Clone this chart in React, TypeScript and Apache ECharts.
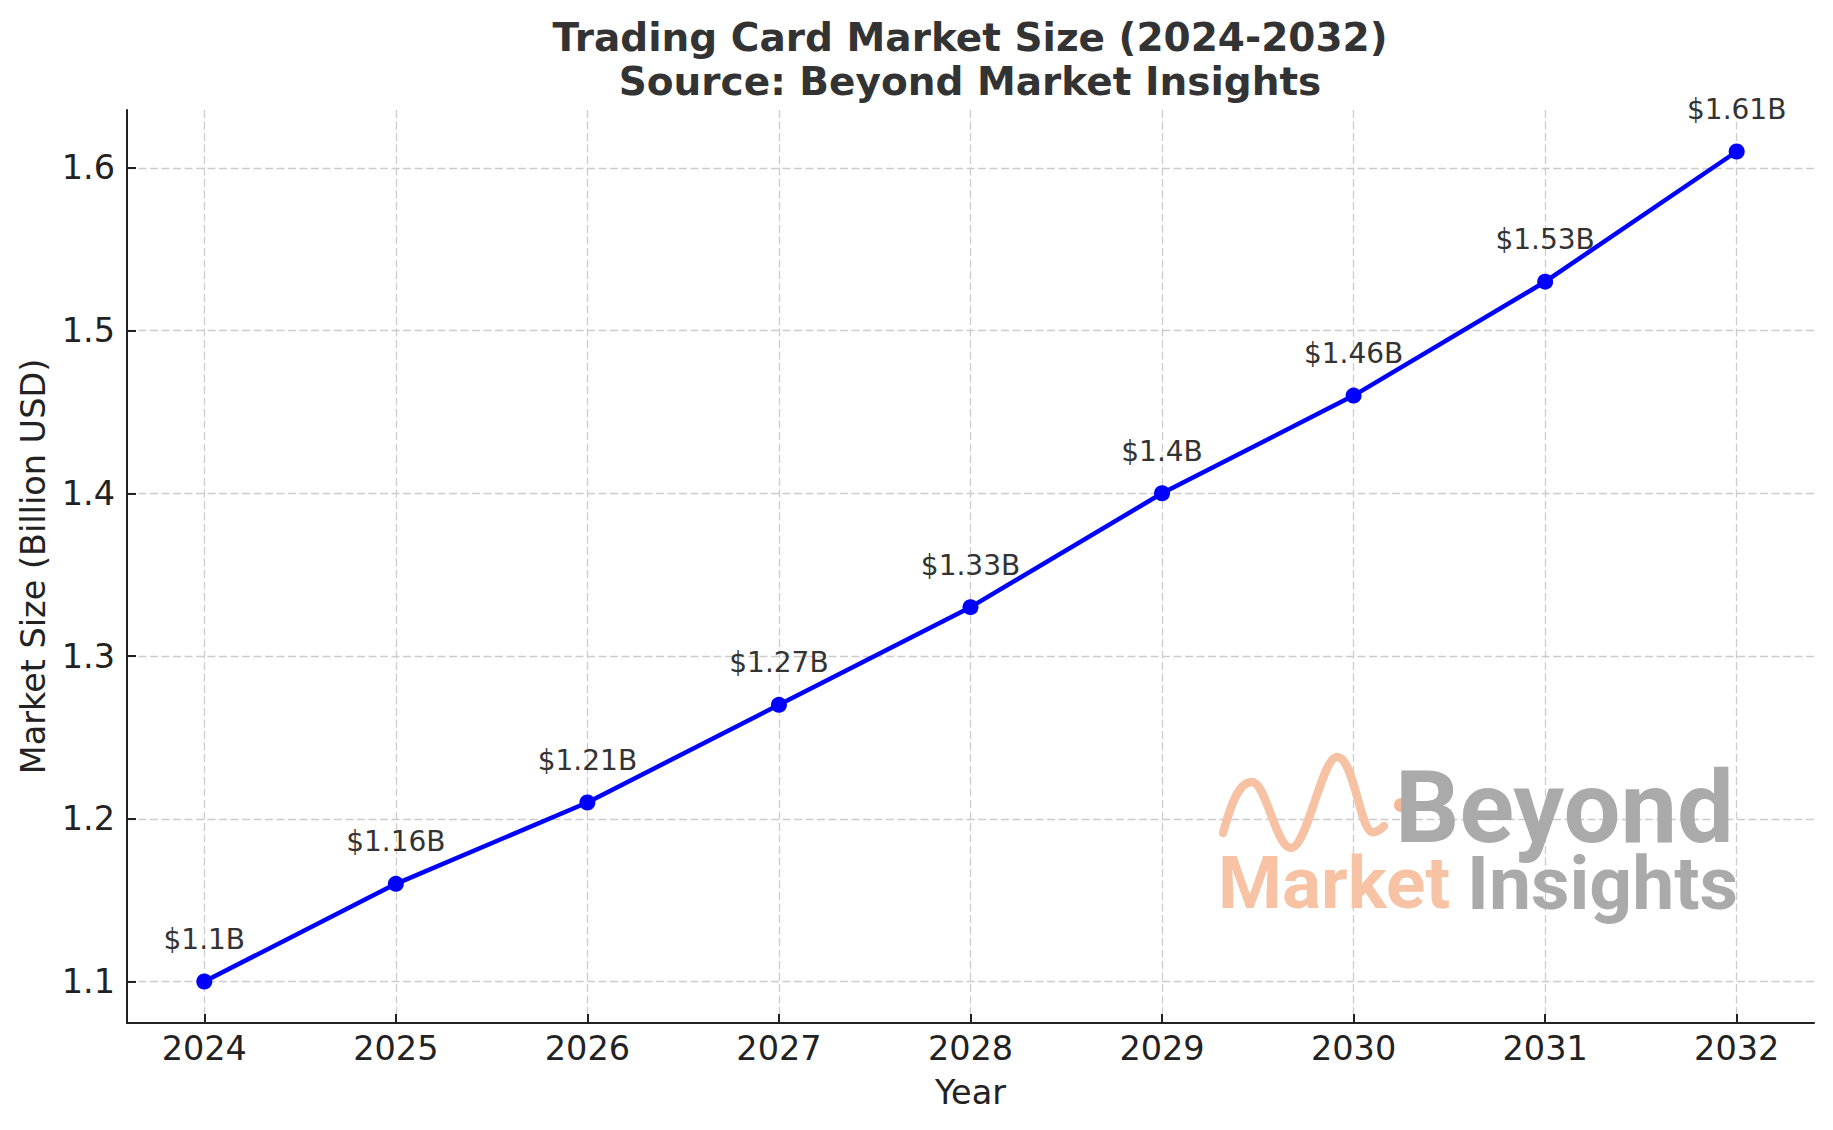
import React, { useEffect, useRef } from 'react';
import * as echarts from 'echarts';

const years = [2024, 2025, 2026, 2027, 2028, 2029, 2030, 2031, 2032];
const marketSize = [1.1, 1.16, 1.21, 1.27, 1.33, 1.4, 1.46, 1.53, 1.61];
const xTickValues = [2024, 2025, 2026, 2027, 2028, 2029, 2030, 2031, 2032];
const yTickValues = [1.1, 1.2, 1.3, 1.4, 1.5, 1.6];
const titleLines = ['Trading Card Market Size (2024-2032)', 'Source: Beyond Market Insights'];
const xAxisName = 'Year';
const yAxisName = 'Market Size (Billion USD)';

const WAVE_PATH =
  'M0,78 C9,45 17,27 29,27 C43,27 53,93 68,93 C84,93 99,2 114,2 C131,2 137,75 149,77 C154,78 158,74 161,71';

let waveRegistered = false;
function ensureWave() {
  if (!waveRegistered) {
    echarts.graphic.registerShape('bmiWave', echarts.graphic.extendPath(WAVE_PATH, {}) as any);
    waveRegistered = true;
  }
}

const FONT = 'DejaVu Sans';

function textEl(
  text: string,
  x: number,
  y: number,
  font: string,
  fill: string,
  align: string,
  lineHeight: number,
  extra: any = {}
) {
  return {
    type: 'text',
    x,
    y,
    ...extra,
    style: {
      text,
      font,
      fill,
      lineHeight,
      align,
      textAlign: align,
      verticalAlign: 'middle',
      textVerticalAlign: 'middle',
    },
  };
}

export default function App() {
  const ref = useRef<HTMLDivElement>(null);

  useEffect(() => {
    if (!ref.current) return;
    ensureWave();
    const chart = echarts.init(ref.current, null, { renderer: 'svg' });
    const data = years.map((y, i) => [y, marketSize[i]]);

    const option: any = {
      animation: false,
      backgroundColor: '#ffffff',
      grid: {
        left: 127,
        top: 110,
        right: 19,
        bottom: 107,
        containLabel: false,
        outerBoundsMode: 'none',
      },
      xAxis: {
        type: 'value',
        min: 2023.5964,
        max: 2032.4036,
        name: xAxisName,
        nameLocation: 'middle',
        nameGap: 52,
        nameTextStyle: { fontFamily: FONT, fontSize: 33.5, color: '#222222' },
        axisLine: { show: true, onZero: false, lineStyle: { color: '#222222', width: 2 } },
        axisTick: {
          show: true,
          inside: true,
          length: 9,
          customValues: xTickValues,
          lineStyle: { color: '#222222', width: 2 },
        },
        axisLabel: {
          show: true,
          customValues: xTickValues,
          margin: 8,
          fontFamily: FONT,
          fontSize: 33.5,
          color: '#222222',
          formatter: (v: number) => String(v),
        },
        splitLine: {
          show: true,
          lineStyle: { color: '#cccccc', width: 1.3, type: [8, 3.5] },
        },
      },
      yAxis: {
        type: 'value',
        min: 1.0745,
        max: 1.6355,
        name: yAxisName,
        nameLocation: 'middle',
        nameGap: 75,
        nameTextStyle: { fontFamily: FONT, fontSize: 33.5, color: '#222222' },
        axisLine: { show: true, onZero: false, lineStyle: { color: '#222222', width: 2 } },
        axisTick: {
          show: true,
          inside: true,
          length: 9,
          customValues: yTickValues,
          lineStyle: { color: '#222222', width: 2 },
        },
        axisLabel: {
          show: true,
          customValues: yTickValues,
          margin: 12,
          fontFamily: FONT,
          fontSize: 33.5,
          color: '#222222',
          formatter: (v: number) => v.toFixed(1),
        },
        splitLine: {
          show: true,
          lineStyle: { color: '#cccccc', width: 1.3, type: [8, 3.5] },
        },
      },
      graphic: [
        textEl(titleLines[0], 970, 37, `bold 39px "${FONT}"`, '#333333', 'center', 42),
        textEl(titleLines[1], 970, 81, `bold 39px "${FONT}"`, '#333333', 'center', 42),
        {
          type: 'bmiWave',
          x: 1223,
          y: 755,
          z: 1,
          style: { fill: 'none', stroke: '#f6c2a3', lineWidth: 8.5, lineCap: 'round', lineJoin: 'round' },
        },
        {
          type: 'circle',
          z: 1,
          shape: { cx: 1401, cy: 805, r: 8 },
          style: { fill: '#f5b896', stroke: '#ffffff', lineWidth: 2 },
        },
        textEl('Beyond', 1395, 807, 'bold 101px Roboto', '#aaaaaa', 'left', 74, { z: 1 }),
        textEl('Market', 1218, 883, 'bold 73px Roboto', '#f7c3a4', 'left', 56, { z: 1 }),
        textEl('Insights', 1467, 883, 'bold 75px Roboto', '#aaaaaa', 'left', 56, { z: 1 }),
      ],
      series: [
        {
          type: 'line',
          data,
          z: 5,
          symbol: 'circle',
          symbolSize: 16,
          color: '#0000ff',
          itemStyle: { color: '#0000ff', borderWidth: 0 },
          lineStyle: { color: '#0000ff', width: 4.5 },
          label: {
            show: true,
            position: 'top',
            distance: 20,
            fontFamily: FONT,
            fontSize: 28,
            color: '#333333',
            formatter: (p: any) => `$${p.value[1]}B`,
          },
          emphasis: { disabled: true },
        },
      ],
    };

    chart.setOption(option);
    return () => {
      chart.dispose();
    };
  }, []);

  return (
    <div
      ref={ref}
      style={{ position: 'fixed', left: 0, top: 0, width: 1833, height: 1130, background: '#ffffff' }}
    />
  );
}
